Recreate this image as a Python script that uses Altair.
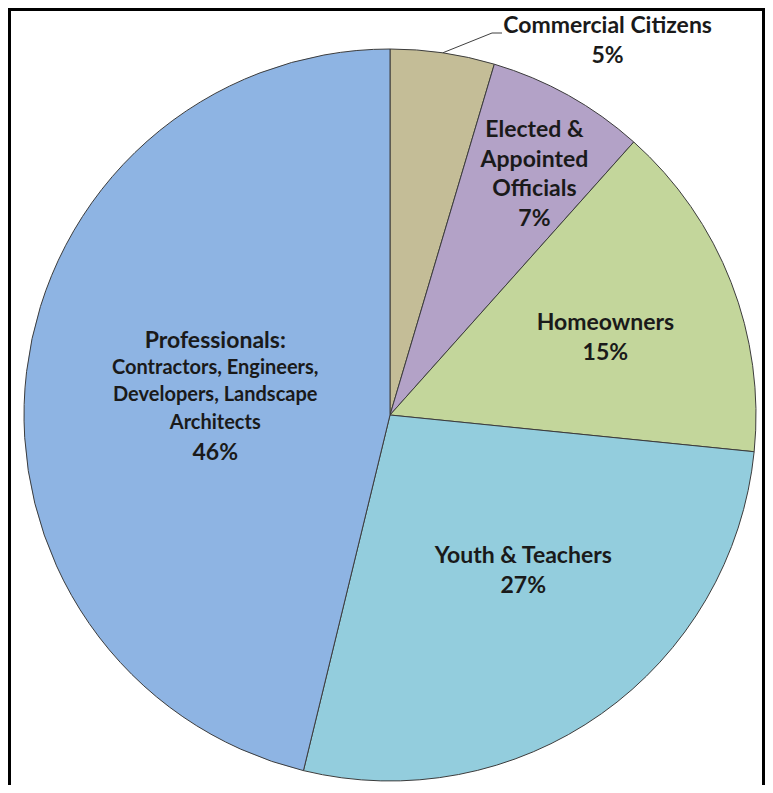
import altair as alt

# ---- data ----
categories = ["Commercial Citizens", "Elected & Appointed Officials", "Homeowners",
              "Youth & Teachers", "Professionals"]
shares = [4.6, 7.0, 15.0, 27.2, 46.2]
pct_labels = ["5%", "7%", "15%", "27%", "46%"]
colors = ["#C4BD97", "#B3A2C7", "#C3D69B", "#93CDDD", "#8EB4E3"]
name_lines = [["Commercial Citizens"], ["Elected &", "Appointed", "Officials"],
              ["Homeowners"], ["Youth & Teachers"], ["Professionals:"]]
prof_detail = ["Contractors, Engineers,", "Developers, Landscape", "Architects"]

records = [
    {"cat": c, "value": v, "order": i, "pct": p, "lines": n + [p], "name": n}
    for i, (c, v, p, n) in enumerate(zip(categories, shares, pct_labels, name_lines))
]
data = alt.Data(values=records)

W, H = 757, 777
CX, CY, R = 382, 407, 366
FONT = "Lato"
TXT = "#1a1a1a"
MAIN = 23
SUB = 20

base = alt.Chart(data)

arc = base.mark_arc(radius=R, stroke="#3c3c3c", strokeWidth=1).encode(
    theta=alt.Theta("value:Q", stack=True),
    order=alt.Order("order:Q"),
    color=alt.Color("cat:N", scale=alt.Scale(domain=categories, range=colors), legend=None),
    x=alt.value(CX),
    y=alt.value(CY),
)


def polar(cat, r):
    return (
        base.transform_joinaggregate(total="sum(value)")
        .transform_window(cum="sum(value)", sort=[alt.SortField("order")], frame=[None, 0])
        .transform_calculate(ang="2*PI*(datum.cum - datum.value/2)/datum.total")
        .transform_filter(alt.datum.cat == cat)
        .transform_calculate(px=f"{CX} + {r}*sin(datum.ang)",
                             py=f"{CY} - {r}*cos(datum.ang)")
    )


XY = dict(x=alt.X("px:Q", scale=None, axis=None), y=alt.Y("py:Q", scale=None, axis=None))


def label(cat, r, dx, dy, field="lines", size=MAIN, lh=30, value=None):
    enc = dict(XY)
    enc["text"] = alt.value(value) if value is not None else alt.Text(f"{field}:N")
    return polar(cat, r).mark_text(
        font=FONT, fontWeight="bold", fontSize=size, lineHeight=lh,
        dx=dx, dy=dy, color=TXT, align="center", baseline="middle"
    ).encode(**enc)


labels = [
    label("Commercial Citizens", 400, 160, 7),
    label("Elected & Appointed Officials", 280, 8, -40, lh=29.5),
    label("Homeowners", 230, 1, -9),
    label("Youth & Teachers", 210, 12, -30),
    label("Professionals", 175, -1, -53, field="name"),
    label("Professionals", 175, -1, -26.5, size=SUB, lh=27.5, value=prof_detail),
    label("Professionals", 175, -1, 59, field="pct"),
]

leader = polar("Commercial Citizens", R).mark_rule(color="#404040", strokeWidth=1).encode(
    **XY, x2=alt.value(484), y2=alt.value(25)
)
one = alt.Chart(alt.Data(values=[{"k": 1}]))
leader_tail = one.mark_rule(color="#404040", strokeWidth=1).encode(
    x=alt.value(484), x2=alt.value(494), y=alt.value(25)
)

frame_top = one.mark_rule(color="black", strokeWidth=3).encode(
    x=alt.value(0), x2=alt.value(W), y=alt.value(1.5))
frame_left = one.mark_rule(color="black", strokeWidth=3).encode(
    x=alt.value(1.5), y=alt.value(0), y2=alt.value(H))
frame_right = one.mark_rule(color="black", strokeWidth=3).encode(
    x=alt.value(W - 1.5), y=alt.value(0), y2=alt.value(H))

chart = alt.layer(arc, leader, leader_tail, *labels, frame_top, frame_left, frame_right).properties(
    width=W, height=H, padding=0, autosize="none"
).configure_view(stroke=None)

chart.save("out.html", embed_options={"renderer": "svg", "actions": False})
